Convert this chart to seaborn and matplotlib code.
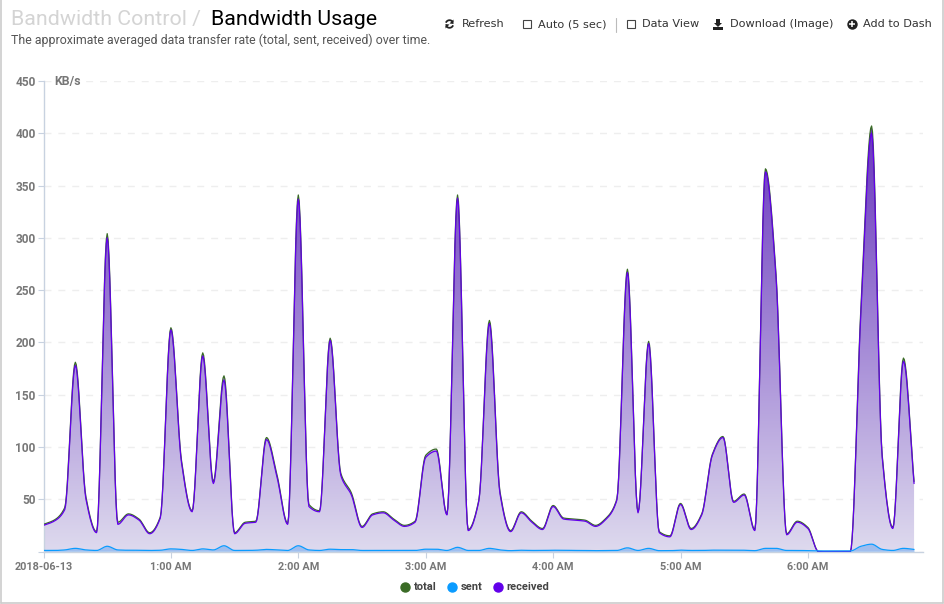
import numpy as np
import pandas as pd
import matplotlib
matplotlib.use("Agg")
import matplotlib.pyplot as plt
import seaborn as sns
from matplotlib.colors import LinearSegmentedColormap
from matplotlib.lines import Line2D
from matplotlib.patches import Rectangle, Polygon

W, H = 944, 604
STEP_MIN = 5

received = [25, 29, 40, 178, 50, 18, 300, 26, 35, 30,
            17, 32, 212, 85, 38, 187, 65, 164, 17, 27,
            28, 107, 71, 26, 337, 43, 38, 202, 73, 54,
            23, 35, 37, 30, 24, 28, 90, 96, 35, 338,
            20, 48, 218, 55, 19, 37, 28, 21, 43, 31,
            30, 29, 24, 31, 49, 267, 37, 199, 18, 14,
            45, 21, 35, 92, 109, 47, 54, 20, 363, 262,
            16, 28, 22, 0, 0, 0, 0, 230, 400, 90,
            22, 182, 65]
sent = [1, 1, 1.5, 3, 1.5, 1, 5, 1.5, 1.2, 1.2,
        1, 1.2, 2.5, 2, 1, 2.5, 1.5, 5.5, 1, 1,
        1.2, 2, 1.5, 1, 5.5, 1.5, 1, 2.2, 1.8, 1.8,
        1, 1, 1, 1, 1, 1, 2.2, 2.2, 1, 4,
        1, 1, 3, 1.5, 0.8, 1.2, 1, 1, 1.2, 1.2,
        1, 1, 0.8, 1, 1, 3.5, 1, 3, 0.8, 0.8,
        1.3, 1, 1, 1.3, 1.3, 1.3, 1.2, 0.8, 3, 3,
        1, 1, 0.8, 0.5, 0.5, 0.5, 0.5, 5, 7, 2,
        1, 3, 2]
total = [26, 30, 42, 181, 52, 19, 304, 28, 36, 31,
         18, 33, 214, 87, 39, 190, 67, 168, 18, 28,
         29, 109, 73, 27, 341, 45, 39, 204, 75, 56,
         24, 36, 38, 31, 25, 29, 92, 98, 36, 341,
         21, 49, 221, 57, 20, 38, 29, 22, 44, 32,
         31, 30, 25, 32, 50, 270, 38, 201, 19, 15,
         46, 22, 36, 93, 110, 48, 55, 21, 366, 265,
         17, 29, 23, 0, 0, 0, 0, 235, 407, 92,
         23, 185, 67]

y_ticks = [0, 50, 100, 150, 200, 250, 300, 350, 400, 450]
x_ticks = [0, 60, 120, 180, 240, 300, 360]
x_labels = ["2018-06-13", "1:00 AM", "2:00 AM", "3:00 AM", "4:00 AM", "5:00 AM", "6:00 AM"]

GRAY = "#777777"
AXIS = "#c8d2e0"


def smooth(y, per=12):
    # monotone cubic between the samples, same look as the chart's curve
    y = np.asarray(y, dtype=float)
    d = np.diff(y)
    m = np.zeros(len(y))
    for i in range(1, len(y) - 1):
        if d[i - 1] * d[i] > 0:
            m[i] = 2 * d[i - 1] * d[i] / (d[i - 1] + d[i])
    m[0], m[-1] = d[0], d[-1]
    t = np.linspace(0, 1, per, endpoint=False)
    h00 = 2 * t**3 - 3 * t**2 + 1
    h10 = t**3 - 2 * t**2 + t
    h01 = -2 * t**3 + 3 * t**2
    h11 = t**3 - t**2
    out = [h00 * y[i] + h10 * m[i] + h01 * y[i + 1] + h11 * m[i + 1] for i in range(len(y) - 1)]
    return np.append(np.concatenate(out), y[-1])


sns.set_theme(style="white")
plt.rcParams["font.family"] = ["Roboto", "DejaVu Sans"]

fig = plt.figure(figsize=(W / 100, H / 100), dpi=100)
ax = fig.add_axes([43.5 / W, 1 - 551.5 / H, 879.5 / W, 470.5 / H])

xs = np.linspace(0, (len(received) - 1) * STEP_MIN, (len(received) - 1) * 12 + 1)
curves = {"total": smooth(total), "sent": smooth(sent), "received": smooth(received)}
df = pd.concat([pd.DataFrame({"minute": xs, "rate": v, "series": k}) for k, v in curves.items()])

# gradient under the received curve
cmap = LinearSegmentedColormap.from_list("area", ["#dedaee", "#6937be"])
img = ax.imshow(np.linspace(0, 1, 256).reshape(-1, 1), extent=[0, xs[-1], 0, 405], origin="lower",
                aspect="auto", cmap=cmap, zorder=1)
poly = Polygon(np.column_stack([np.r_[xs[0], xs, xs[-1]], np.r_[0, curves["total"], 0]]),
               closed=True, transform=ax.transData, facecolor="none", edgecolor="none")
ax.add_patch(poly)
img.set_clip_path(poly)
ax.fill_between(xs, 0, curves["sent"], color="#2f8cf0", alpha=0.35, lw=0, zorder=2)

colors = {"total": "#3a6b26", "sent": "#0a9bff", "received": "#6200ea"}
sns.lineplot(data=df[df.series != "sent"], x="minute", y="rate", hue="series", palette=colors,
             estimator=None, sort=False, legend=False, linewidth=0.9, ax=ax, zorder=3)
sns.lineplot(data=df[df.series == "sent"], x="minute", y="rate", color=colors["sent"],
             estimator=None, sort=False, legend=False, linewidth=0.9, ax=ax, zorder=4)

ax.set_xlim(0, 879.5 / (127.4 / 60))
ax.set_ylim(0, 450)
ax.set_xlabel("")
ax.set_ylabel("")
ax.set_yticks(y_ticks)
ax.set_xticks(x_ticks)
ax.set_xticklabels(x_labels)
ax.set_yticklabels([str(v) if v else "" for v in y_ticks])
ax.set_axisbelow(True)
ax.yaxis.grid(True, color="#eeeeee", lw=1, dashes=(5, 5))
ax.xaxis.grid(False)
ax.tick_params(axis="both", colors=AXIS, labelcolor=GRAY, length=4, width=0.8, bottom=True, left=True)
ax.tick_params(axis="x", labelsize=7.8, pad=3.5)
ax.tick_params(axis="y", labelsize=8.6, pad=1.5)
for lab in ax.get_xticklabels() + ax.get_yticklabels():
    lab.set_fontweight("bold")
for side in ("top", "right"):
    ax.spines[side].set_visible(False)
for side in ("left", "bottom"):
    ax.spines[side].set_color(AXIS)
    ax.spines[side].set_linewidth(1)

handles = [Line2D([], [], ls="", marker="o", ms=6.5, color=colors[k], label=k) for k in ("total", "sent", "received")]
leg = fig.legend(handles=handles, ncol=3, loc="center", bbox_to_anchor=(474.5 / W, 1 - 587.5 / H), frameon=False,
                 handlelength=1, handletextpad=0.3, columnspacing=0.85, prop={"weight": "bold", "size": 8})
for t in leg.get_texts():
    t.set_color("#444444")

# page furniture drawn in pixel coordinates
bg = fig.add_axes([0, 0, 1, 1], zorder=5)
bg.set_xlim(0, W)
bg.set_ylim(H, 0)
bg.axis("off")
bg.patch.set_alpha(0)
bg.plot([0.7, 0.7], [0, 603], color="#cccccc", lw=1.2)
bg.plot([0.7, 943], [603, 603], color="#cccccc", lw=1.2)
bg.plot([943, 943], [0, 603], color="#cccccc", lw=1.2)

bg.text(54, 81, "KB/s", fontsize=8.8, fontweight="bold", color=GRAY, va="center",
        bbox=dict(fc="white", ec="none", pad=1.5))
bg.text(11, 25, "Bandwidth Control /", fontsize=15.4, color="#d4d4d4", va="baseline")
bg.text(211, 25, "Bandwidth Usage", fontsize=15.4, color="#000000", va="baseline")
bg.text(11, 44, "The approximate averaged data transfer rate (total, sent, received) over time.",
        fontsize=8.9, color="#555555", va="baseline")

tb = dict(fontsize=8.1, color="#333333", va="center", family="DejaVu Sans")
# refresh icon: two arcs with small arrow heads
for start, tip in ((200, [(453.5, 19.5), (453.5, 24), (449.5, 23.5)]), (20, [(445.5, 28.5), (445.5, 24), (449.5, 24.5)])):
    ang = np.radians(np.linspace(start, start + 130, 20))
    bg.plot(449.5 + 3.8 * np.cos(ang), 24 + 3.8 * np.sin(ang), color="#222222", lw=1.3, solid_capstyle="butt")
    bg.add_patch(Polygon(tip, fc="#222222", ec="none"))
bg.text(462, 24.3, "Refresh", **tb)
bg.add_patch(Rectangle((522.5, 20), 8, 8, fc="white", ec="#444444", lw=0.8))
bg.text(538, 24.3, "Auto (5 sec)", **tb)
bg.plot([615.5, 615.5], [18, 32], color="#bbbbbb", lw=0.8)
bg.add_patch(Rectangle((627, 20), 8, 8, fc="white", ec="#444444", lw=0.8))
bg.text(642, 24.3, "Data View", **tb)
bg.add_patch(Polygon([(716, 19), (720, 19), (720, 23), (722, 23), (718, 27), (714, 23), (716, 23)], fc="#222222", ec="none"))
bg.add_patch(Rectangle((713, 27), 10, 2.5, fc="#222222", ec="none"))
bg.text(730, 24.3, "Download (Image)", **tb)
bg.plot([852], [24], marker="o", ms=7.5, color="#222222", mew=0)
bg.plot([852], [24], marker="+", ms=5, color="white", mew=1.1)
bg.text(863, 24.3, "Add to Dash", **tb)

fig.savefig("out.png", dpi=100)
